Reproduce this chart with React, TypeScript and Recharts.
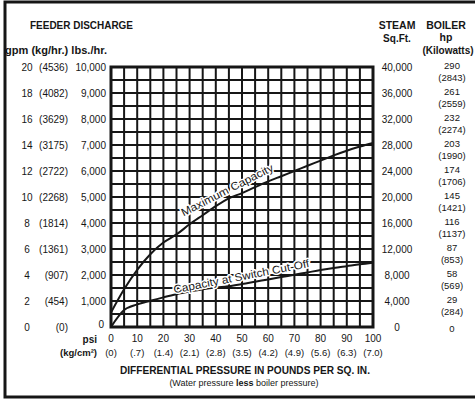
import { CartesianGrid, Line, LineChart, ReferenceArea, ReferenceDot, XAxis, YAxis } from 'recharts'

// differential pressure (psi) and feeder discharge (lbs./hr.)
const psi = [0, 5, 10, 15, 20, 25, 30, 35, 40, 45, 50, 55, 60, 65, 70, 75, 80, 85, 90, 95, 100]
const maxCapacity = [560, 1450, 2200, 2800, 3250, 3560, 3950, 4300, 4650, 4950, 5150, 5380, 5600, 5800, 6000, 6200, 6400, 6600, 6780, 6940, 7080]
const switchCutOff = [0, 650, 870, 1010, 1140, 1260, 1360, 1450, 1520, 1570, 1650, 1740, 1830, 1920, 2010, 2100, 2190, 2270, 2340, 2410, 2470]

const lbsTicks = [0, 1000, 2000, 3000, 4000, 5000, 6000, 7000, 8000, 9000, 10000]
const gpmLabels = ['0', '2', '4', '6', '8', '10', '12', '14', '16', '18', '20']
const kgHrLabels = ['(0)', '(454)', '(907)', '(1361)', '(1814)', '(2268)', '(2722)', '(3175)', '(3629)', '(4082)', '(4536)']
const lbsLabels = ['0', '1,000', '2,000', '3,000', '4,000', '5,000', '6,000', '7,000', '8,000', '9,000', '10,000']
const steamLabels = ['0', '4,000', '8,000', '12,000', '16,000', '20,000', '24,000', '28,000', '32,000', '36,000', '40,000']
const boilerHp = ['0', '29', '58', '87', '116', '145', '174', '203', '232', '261', '290']
const boilerKw = ['', '(284)', '(569)', '(853)', '(1137)', '(1421)', '(1706)', '(1990)', '(2274)', '(2559)', '(2843)']

const psiTicks = [0, 10, 20, 30, 40, 50, 60, 70, 80, 90, 100]
const kgCm2Labels = ['(0)', '(.7)', '(1.4)', '(2.1)', '(2.8)', '(3.5)', '(4.2)', '(4.9)', '(5.6)', '(6.3)', '(7.0)']

const gridX = psi
const gridY = Array.from({ length: 21 }, (_, i) => i * 500)

const data = psi.map((p, i) => ({ psi: p, max: maxCapacity[i], cutoff: switchCutOff[i] }))

const FONT = '"Liberation Sans", Arial, sans-serif'
const INK = '#161616'

// left tick also carries the right-hand columns (steam, boiler) on the same row
const RowTick = ({ y, payload }: any) => {
  const i = lbsTicks.indexOf(payload.value)
  return (
    <g fontFamily={FONT} fontSize={10} fill={INK}>
      <text x={27} y={y + 4} textAnchor="middle">{gpmLabels[i]}</text>
      <text x={68} y={y + 4} textAnchor="end">{kgHrLabels[i]}</text>
      <text x={i === 0 ? 104 : 106} y={i === 0 ? y + 1 : y + 4} textAnchor="end">{lbsLabels[i]}</text>
      <text x={397} y={y + 4} textAnchor="middle">{steamLabels[i]}</text>
      <text x={452} y={i === 0 ? y + 5 : y + 1.5} textAnchor="middle" fontSize={9.5}>{boilerHp[i]}</text>
      {boilerKw[i] && <text x={452} y={y + 14} textAnchor="middle" fontSize={9.5}>{boilerKw[i]}</text>}
    </g>
  )
}

const BottomTick = ({ x, payload }: any) => {
  const i = psiTicks.indexOf(payload.value)
  return (
    <g fontFamily={FONT} fontSize={10} fill={INK}>
      <text x={x} y={342} textAnchor="middle">{psiTicks[i]}</text>
      <text x={x} y={356} textAnchor="middle" fontSize={9.5}>{kgCm2Labels[i]}</text>
    </g>
  )
}

const curveLabel = (text: string, angle: number, dy: number, len: number) => ({ viewBox }: any) => {
  const cx = viewBox.x + viewBox.width / 2
  const cy = viewBox.y + viewBox.height / 2 + dy
  return (
    <text x={cx} y={cy} textAnchor="middle" fontFamily={FONT} fontSize={11} fill={INK}
      stroke="#fff" strokeWidth={3} paintOrder="stroke" strokeLinejoin="round"
      textLength={len} lengthAdjust="spacingAndGlyphs"
      transform={`rotate(${angle} ${cx} ${cy})`}>
      {text}
    </text>
  )
}

export default function App() {
  return (
    <div style={{ position: 'absolute', left: 0, top: 0, width: 475, height: 400, background: '#fff', overflow: 'hidden' }}>
      <LineChart width={475} height={400} data={data} margin={{ top: 67, right: 102, bottom: 0, left: 0 }}>
        <CartesianGrid stroke={INK} strokeWidth={2} horizontalValues={gridY} verticalValues={gridX} />
        <XAxis dataKey="psi" type="number" domain={[0, 100]} ticks={psiTicks} height={73}
          axisLine={false} tickLine={false} tick={<BottomTick />} interval={0} />
        <YAxis type="number" domain={[0, 10000]} ticks={lbsTicks} width={111}
          axisLine={false} tickLine={false} tick={<RowTick />} interval={0} />
        <ReferenceArea x1={0} x2={100} y1={0} y2={10000} fill="none" stroke={INK} strokeWidth={3} fillOpacity={0} />
        <ReferenceDot x={45} y={4950} r={0} fill="none" stroke="none"
          label={curveLabel('Maximum Capacity', -27, -5, 102)} />
        <ReferenceDot x={50} y={1650} r={0} fill="none" stroke="none"
          label={curveLabel('Capacity at Switch Cut-Off', -11, -4, 138)} />
        <Line type="monotone" dataKey="max" stroke={INK} strokeWidth={2} dot={false} isAnimationActive={false} />
        <Line type="monotone" dataKey="cutoff" stroke={INK} strokeWidth={2} dot={false} isAnimationActive={false} />
      </LineChart>
      <svg width={475} height={400} style={{ position: 'absolute', left: 0, top: 0, pointerEvents: 'none' }}
        fontFamily={FONT} fill={INK}>
        <rect x={5} y={2} width={480} height={395} fill="none" stroke={INK} strokeWidth={3} />
        <text x={30} y={29} fontSize={10.5} fontWeight="bold" textLength={103} lengthAdjust="spacingAndGlyphs">FEEDER DISCHARGE</text>
        <text x={5} y={54} fontSize={10} fontWeight="bold" textLength={102} lengthAdjust="spacingAndGlyphs">gpm (kg/hr.) lbs./hr.</text>
        <text x={397} y={29} fontSize={10.5} fontWeight="bold" textAnchor="middle">STEAM</text>
        <text x={397} y={42} fontSize={10} fontWeight="bold" textAnchor="middle">Sq.Ft.</text>
        <text x={446} y={29} fontSize={10.5} fontWeight="bold" textAnchor="middle">BOILER</text>
        <text x={446} y={41} fontSize={10.5} fontWeight="bold" textAnchor="middle">hp</text>
        <text x={448} y={54} fontSize={10} fontWeight="bold" textAnchor="middle">(Kilowatts)</text>
        <text x={97} y={343} fontSize={10} fontWeight="bold" textAnchor="end">psi</text>
        <text x={97} y={356} fontSize={9.5} fontWeight="bold" textAnchor="end">(kg/cm²)</text>
        <text x={120} y={374} fontSize={10} fontWeight="bold" textLength={250} lengthAdjust="spacingAndGlyphs">DIFFERENTIAL PRESSURE IN POUNDS PER SQ. IN.</text>
        <text x={244} y={386} fontSize={9} textAnchor="middle">
          (Water pressure <tspan fontWeight="bold">less</tspan> boiler pressure)
        </text>
      </svg>
    </div>
  )
}
